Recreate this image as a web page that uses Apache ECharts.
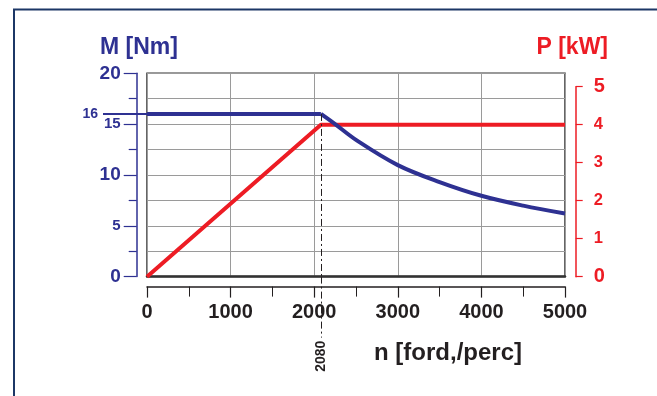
<!DOCTYPE html>
<html><head><meta charset="utf-8">
<script src="https://cdn.jsdelivr.net/npm/echarts@6/dist/echarts.min.js"></script>
<style>html,body{margin:0;padding:0;background:#fff}#c{width:657px;height:396px}</style>
</head><body><div id="c"></div>
<script>
// ---- data ----
const xTicks = [0, 1000, 2000, 3000, 4000, 5000];
const torqueTicks = [0, 5, 10, 15, 20];
const powerTicks = [0, 1, 2, 3, 4, 5];
const kneeRpm = 2080;
const ratedTorque = 16;
const torqueFlatRpm = [0, 2080];
const torqueFlatNm = [16, 16];
const torqueCurveRpm = [2080, 2250, 2500, 3000, 3500, 4000, 4500, 5000];
const torqueCurveNm = [16, 15.0, 13.45, 10.97, 9.3, 7.95, 6.98, 6.2];
const powerRpm = [0, 2080, 5000];
const powerKW = [0, 4, 4];

const BLUE = '#2e3192', RED = '#ed1c24', DARK = '#231f20', GRID = '#9a9a9a';
const FONT = 'Liberation Sans';
const pairs = (xs, ys) => xs.map((x, i) => [x, ys[i]]);

const G = {left: 147, right: 92, top: 73.3, height: 203.3};
const chart = echarts.init(document.getElementById('c'), null, {renderer: 'canvas'});
chart.setOption({
  animation: false,
  textStyle: {fontFamily: FONT},
  graphic: [{
    type: 'rect', shape: {x: 14, y: 9.5, width: 700, height: 500},
    style: {fill: 'none', stroke: '#1c3766', lineWidth: 2}, silent: true, z: -1
  }],
  title: [
    {text: 'M [Nm]', left: 95, top: 31, textStyle: {fontFamily: FONT, fontSize: 23, fontWeight: 'bold', color: BLUE}},
    {text: 'P [kW]', right: 44, top: 31, textStyle: {fontFamily: FONT, fontSize: 23, fontWeight: 'bold', color: RED}},
    {text: 'n [ford,/perc]', left: 369, top: 336, textStyle: {fontFamily: FONT, fontSize: 24, fontWeight: 'bold', color: DARK}}
  ],
  grid: [
    {left: G.left, right: G.right, top: G.top, height: G.height, show: true, borderColor: '#333', borderWidth: 1.5, backgroundColor: 'transparent'},
    {left: G.left, right: G.right, top: 86.7, height: 190}
  ],
  xAxis: [
    { // 0: grid lines + plot bottom
      gridIndex: 0, type: 'value', min: 0, max: 5000, interval: 1000, position: 'bottom',
      axisLine: {show: true, onZero: false, lineStyle: {color: '#333', width: 2.5}},
      axisTick: {show: false}, axisLabel: {show: false},
      splitLine: {show: true, lineStyle: {color: GRID, width: 1}}
    },
    { // 1: visible tick axis
      gridIndex: 0, type: 'value', min: 0, max: 5000, interval: 1000, position: 'bottom', offset: 10,
      axisLine: {show: true, onZero: false, lineStyle: {color: DARK, width: 1.5}},
      axisTick: {show: true, inside: false, length: 11, lineStyle: {color: DARK, width: 1.2}},
      minorTick: {show: true, splitNumber: 2, length: 10, lineStyle: {color: DARK, width: 1}},
      axisLabel: {show: true, margin: 16, color: DARK, fontFamily: FONT, fontSize: 20, fontWeight: 'bold',
        customValues: xTicks, formatter: v => String(v)},
      splitLine: {show: false}
    },
    { // 2: knee marker below axis
      gridIndex: 0, type: 'value', min: 0, max: 5000, position: 'bottom', offset: 0,
      axisLine: {show: false, onZero: false},
      axisTick: {show: true, customValues: [kneeRpm], length: 61, lineStyle: {color: DARK, width: 1, type: [7, 3, 2, 3]}},
      axisLabel: {show: true, customValues: [kneeRpm], rotate: 90, margin: 64, color: DARK,
        fontFamily: FONT, fontSize: 14, fontWeight: 'bold', formatter: v => String(v)},
      splitLine: {show: false}
    },
    { // 3: hidden for power grid
      gridIndex: 1, type: 'value', min: 0, max: 5000, show: false
    }
  ],
  yAxis: [
    { // 0: torque
      gridIndex: 0, type: 'value', min: 0, max: 20, interval: 5, position: 'left', offset: 10.3,
      axisLine: {show: true, onZero: false, lineStyle: {color: BLUE, width: 1.5}},
      axisTick: {show: true, length: 13, lineStyle: {color: BLUE, width: 1.2}},
      minorTick: {show: true, splitNumber: 2, length: 8, lineStyle: {color: BLUE, width: 1.2}},
      axisLabel: {margin: 16, color: BLUE, fontFamily: FONT, fontWeight: 'bold',
        formatter: v => (v % 10 === 0 ? '{b|' + v + '}' : '{s|' + v + '}'),
        rich: {b: {fontSize: 19, fontWeight: 'bold', color: BLUE, fontFamily: FONT},
               s: {fontSize: 15, fontWeight: 'bold', color: BLUE, fontFamily: FONT}}},
      splitLine: {show: true, lineStyle: {color: GRID, width: 1}},
      minorSplitLine: {show: true, lineStyle: {color: GRID, width: 1}}
    },
    { // 1: power
      gridIndex: 1, type: 'value', min: 0, max: 5, interval: 1, position: 'right', offset: 10.7,
      axisLine: {show: true, onZero: false, lineStyle: {color: RED, width: 1.5}},
      axisTick: {show: true, length: 7, lineStyle: {color: RED, width: 1.2}},
      axisLabel: {margin: 18, color: RED, fontFamily: FONT, fontWeight: 'bold',
        formatter: v => (v === 0 || v === 5 ? '{b|' + v + '}' : '{s|' + v + '}'),
        rich: {b: {fontSize: 20, fontWeight: 'bold', color: RED, fontFamily: FONT},
               s: {fontSize: 16.5, fontWeight: 'bold', color: RED, fontFamily: FONT}}},
      splitLine: {show: false}
    },
    { // 2: rated torque marker outside plot
      gridIndex: 0, type: 'value', min: 0, max: 20, position: 'left', offset: 0,
      axisLine: {show: false, onZero: false},
      axisTick: {show: true, customValues: [ratedTorque], length: 44, lineStyle: {color: BLUE, width: 1.8}},
      axisLabel: {show: true, customValues: [ratedTorque], margin: 49, color: BLUE, fontFamily: FONT,
        fontSize: 14, fontWeight: 'bold', padding: [3, 0, 0, 0]},
      splitLine: {show: false}
    }
  ],
  series: [
    {
      type: 'line', xAxisIndex: 3, yAxisIndex: 1, data: pairs(powerRpm, powerKW),
      symbol: 'none', lineStyle: {color: RED, width: 4}, z: 3
    },
    {
      type: 'line', xAxisIndex: 0, yAxisIndex: 0, data: pairs(torqueFlatRpm, torqueFlatNm),
      symbol: 'none', lineStyle: {color: BLUE, width: 4}, z: 4,
      markLine: {
        silent: true, symbol: 'none', label: {show: false},
        lineStyle: {color: DARK, width: 1, type: [7, 3, 2, 3]},
        data: [[{coord: [kneeRpm, ratedTorque]}, {coord: [kneeRpm, 0]}]]
      }
    },
    {
      type: 'line', xAxisIndex: 0, yAxisIndex: 0, data: pairs(torqueCurveRpm, torqueCurveNm),
      symbol: 'none', smooth: 0.35, lineStyle: {color: BLUE, width: 4}, z: 4
    }
  ]
});
</script></body></html>
